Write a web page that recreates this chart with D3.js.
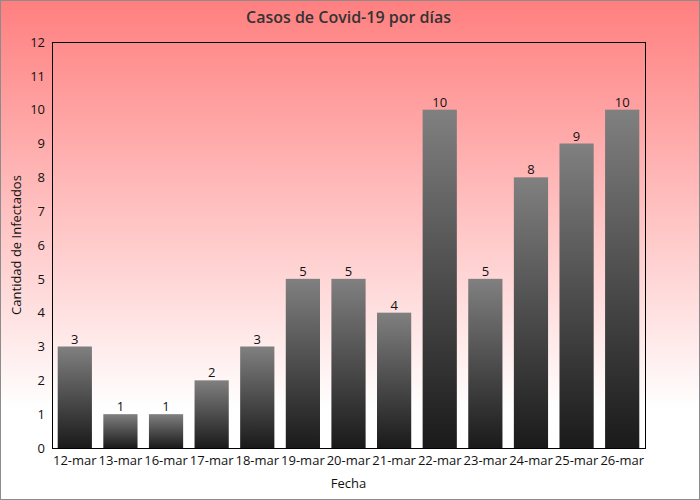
<!DOCTYPE html>
<html><head><meta charset="utf-8">
<script src="https://cdn.jsdelivr.net/npm/d3@7"></script>
<style>body{margin:0;padding:0;}svg{display:block;font-family:"Open Sans",sans-serif;}</style>
</head><body>
<svg id="c" width="700" height="500"></svg>
<script>
const categories = ["12-mar","13-mar","16-mar","17-mar","18-mar","19-mar","20-mar","21-mar","22-mar","23-mar","24-mar","25-mar","26-mar"];
const casos = [3,1,1,2,3,5,5,4,10,5,8,9,10];
const yTicks = [0,1,2,3,4,5,6,7,8,9,10,11,12];
const title = "Casos de Covid-19 por días";
const xTitle = "Fecha";
const yTitle = "Cantidad de Infectados";

const W = 700, H = 500;
const m = {l:52, r:55, t:42, b:52};
const svg = d3.select("#c");
const defs = svg.append("defs");
const bg = defs.append("linearGradient").attr("id","bg").attr("x1",0).attr("y1",0).attr("x2",0).attr("y2",1);
bg.append("stop").attr("offset","0%").attr("stop-color","#ff7f7f");
bg.append("stop").attr("offset","82%").attr("stop-color","#ffffff");
bg.append("stop").attr("offset","100%").attr("stop-color","#ffffff");
const bar = defs.append("linearGradient").attr("id","bar").attr("x1",0).attr("y1",0).attr("x2",0).attr("y2",1);
bar.append("stop").attr("offset","0%").attr("stop-color","#808080");
bar.append("stop").attr("offset","100%").attr("stop-color","#1a1a1a");

svg.append("rect").attr("x",0.5).attr("y",0.5).attr("width",W-1).attr("height",H-1)
  .attr("fill","url(#bg)").attr("stroke","#8c8c8c").attr("stroke-width",1);

const x = d3.scaleBand().domain(categories).range([m.l, W-m.r]).paddingInner(0.25).paddingOuter(0.125);
const y = d3.scaleLinear().domain([0,12]).range([H-m.b, m.t]);

svg.append("rect").attr("x",m.l+0.5).attr("y",m.t+0.5).attr("width",W-m.r-m.l).attr("height",H-m.b-m.t)
  .attr("fill","none").attr("stroke","#000").attr("stroke-width",1);

svg.selectAll("rect.bar").data(casos).join("rect").attr("class","bar")
  .attr("x",(d,i)=>x(categories[i])).attr("width",x.bandwidth())
  .attr("y",d=>y(d)).attr("height",d=>y(0)-y(d)).attr("fill","url(#bar)");

svg.selectAll("text.lbl").data(casos).join("text").attr("class","lbl")
  .attr("x",(d,i)=>x(categories[i])+x.bandwidth()/2).attr("y",d=>y(d)-3)
  .attr("text-anchor","middle").attr("font-size",13).attr("fill","#111").text(d=>d);

const ya = svg.append("g").attr("transform",`translate(${m.l},0)`)
  .call(d3.axisLeft(y).tickValues(yTicks).tickSize(0).tickPadding(7));
ya.select(".domain").remove();
ya.selectAll("text").attr("font-size",13).attr("fill","#111").attr("font-family","Open Sans, sans-serif");

const xa = svg.append("g").attr("transform",`translate(0,${H-m.b})`)
  .call(d3.axisBottom(x).tickSize(0).tickPadding(8));
xa.select(".domain").remove();
xa.selectAll("text").attr("font-size",13).attr("fill","#111").attr("font-family","Open Sans, sans-serif");

svg.append("text").attr("x",(m.l+W-m.r)/2).attr("y",23).attr("text-anchor","middle")
  .attr("font-size",16).attr("font-weight",600).attr("fill","#333").text(title);
svg.append("text").attr("x",(m.l+W-m.r)/2).attr("y",488).attr("text-anchor","middle")
  .attr("font-size",13).attr("fill","#111").text(xTitle);
svg.append("text").attr("transform",`translate(21,${(m.t+H-m.b)/2}) rotate(-90)`).attr("text-anchor","middle")
  .attr("font-size",13).attr("fill","#111").text(yTitle);
</script>
</body></html>
